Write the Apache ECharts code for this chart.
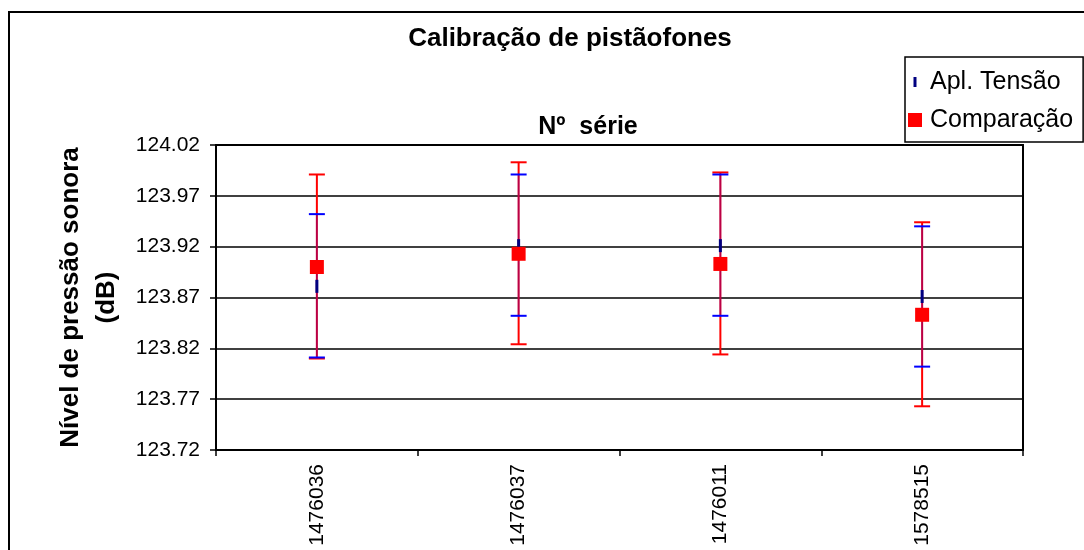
<!DOCTYPE html>
<html><head><meta charset="utf-8">
<script src="https://cdn.jsdelivr.net/npm/echarts@6/dist/echarts.min.js"></script>
<style>html,body{margin:0;padding:0;background:#fff}#c{width:1084px;height:550px}</style>
</head><body><div id="c"></div>
<script>
const categories = ['1476036', '1476037', '1476011', '1578515'];
const tensaoMean = [123.881, 123.921, 123.921, 123.871];
const tensaoLow  = [123.811, 123.852, 123.852, 123.802];
const tensaoHigh = [123.952, 123.991, 123.991, 123.940];
const comparMean = [123.900, 123.913, 123.903, 123.853];
const comparLow  = [123.810, 123.824, 123.814, 123.763];
const comparHigh = [123.991, 124.003, 123.993, 123.944];
const yTicks = [123.72, 123.77, 123.82, 123.87, 123.92, 123.97, 124.02];

const F = '"Liberation Sans", Arial, sans-serif';
const base = yTicks[0];
const step = +(yTicks[1] - yTicks[0]).toFixed(2);
const span = +(yTicks[yTicks.length - 1] - base).toFixed(2);
const rel = v => +(v - base).toFixed(4);

function errRender(capColor, stemColor, stemOpacity, stemWidth) {
  return function (params, api) {
    const i = api.value(0);
    const lo = api.coord([i, api.value(1)]);
    const hi = api.coord([i, api.value(2)]);
    const hw = 8;
    return {
      type: 'group',
      children: [
        { type: 'line', shape: { x1: lo[0], y1: lo[1], x2: hi[0], y2: hi[1] },
          style: { stroke: stemColor, lineWidth: stemWidth, opacity: stemOpacity } },
        { type: 'line', shape: { x1: lo[0] - hw, y1: lo[1], x2: lo[0] + hw, y2: lo[1] },
          style: { stroke: capColor, lineWidth: 2 } },
        { type: 'line', shape: { x1: hi[0] - hw, y1: hi[1], x2: hi[0] + hw, y2: hi[1] },
          style: { stroke: capColor, lineWidth: 2 } }
      ]
    };
  };
}

const chart = echarts.init(document.getElementById('c'), null, { renderer: 'canvas' });
chart.setOption({
  animation: false,
  backgroundColor: '#fff',
  graphic: [{
    type: 'rect', x: 9, y: 12, silent: true, z: -10,
    shape: { x: 0, y: 0, width: 1200, height: 700 },
    style: { fill: 'none', stroke: '#000', lineWidth: 2 }
  }],
  title: [
    { text: 'Calibração de pistãofones', left: 570, top: 24, textAlign: 'center', padding: 0,
      textStyle: { fontFamily: F, fontSize: 26, fontWeight: 'bold', color: '#000', lineHeight: 30 } },
    { text: 'Nº  série', left: 588, top: 112, textAlign: 'center', padding: 0,
      textStyle: { fontFamily: F, fontSize: 25, fontWeight: 'bold', color: '#000', lineHeight: 30 } }
  ],
  legend: {
    orient: 'vertical', left: 905, top: 57, padding: [10, 10, 7, 3], itemGap: 8,
    itemWidth: 14, itemHeight: 14, borderColor: '#000', borderWidth: 1.5, borderRadius: 0,
    backgroundColor: '#fff', selectedMode: false,
    textStyle: { fontFamily: F, fontSize: 25, color: '#000', lineHeight: 30, padding: [0, 0, 0, 3] },
    data: [
      { name: 'Apl. Tensão', icon: 'path://M0,0L0.01,0M14,14L14.01,14M5.5,2h3v10h-3z', itemStyle: { color: '#000080' } },
      { name: 'Comparação', icon: 'rect', itemStyle: { color: '#FF0000' } }
    ]
  },
  grid: {
    left: 216, right: 61, top: 145, bottom: 100, containLabel: false, outerBoundsMode: 'none',
    show: true, borderColor: '#000', borderWidth: 2, backgroundColor: '#fff'
  },
  xAxis: {
    type: 'category', data: categories, boundaryGap: true,
    axisLine: { lineStyle: { color: '#000', width: 2 } },
    axisTick: { show: true, alignWithLabel: false, length: 6, lineStyle: { color: '#000', width: 1.5 } },
    axisLabel: { rotate: 90, margin: 14, fontFamily: F, fontSize: 21, color: '#000' },
    splitLine: { show: false }
  },
  yAxis: {
    type: 'value', min: 0, max: span, interval: step,
    name: 'Nível de pressão sonora\n(dB)', nameLocation: 'middle', nameGap: 88, nameRotate: 90,
    nameTextStyle: { fontFamily: F, fontSize: 26, fontWeight: 'bold', color: '#000', lineHeight: 36 },
    axisLine: { show: true, lineStyle: { color: '#000', width: 2 } },
    axisTick: { show: true, length: 6, lineStyle: { color: '#000', width: 1.5 } },
    axisLabel: { margin: 16, fontFamily: F, fontSize: 21, color: '#000',
      formatter: v => (base + v).toFixed(2) },
    splitLine: { show: true, lineStyle: { color: '#000', width: 1.5 } }
  },
  series: [
    { name: 'Comparação', type: 'custom', renderItem: errRender('#FF0000', '#FF0000', 1, 2),
      encode: { x: 0, y: [1, 2] }, z: 3,
      data: categories.map((c, i) => [i, rel(comparLow[i]), rel(comparHigh[i])]) },
    { name: 'Apl. Tensão', type: 'custom', renderItem: errRender('#0000FF', '#0000FF', 0.27, 2),
      encode: { x: 0, y: [1, 2] }, z: 4,
      data: categories.map((c, i) => [i, rel(tensaoLow[i]), rel(tensaoHigh[i])]) },
    { name: 'Apl. Tensão', type: 'scatter', symbol: 'rect', symbolSize: [3, 13], z: 5,
      itemStyle: { color: '#000080', opacity: 1 },
      data: tensaoMean.map(rel) },
    { name: 'Comparação', type: 'scatter', symbol: 'rect', symbolSize: 14, z: 6,
      itemStyle: { color: '#FF0000', opacity: 1 },
      data: comparMean.map(rel) }
  ]
});
</script></body></html>
